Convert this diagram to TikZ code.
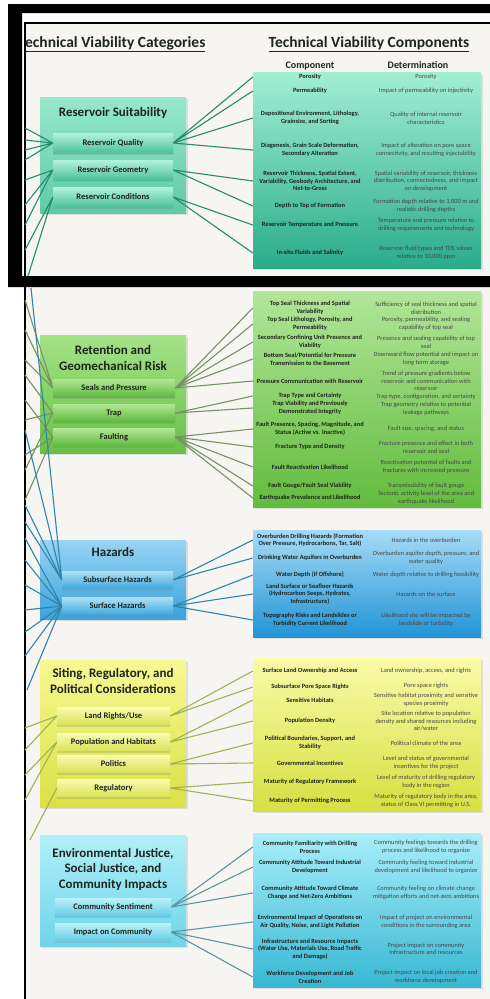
\documentclass[tikz,border=0pt]{standalone}
\usepackage{fontspec}
\setmainfont{Carlito}
\usepackage{xcolor}
\usepackage{tikz}
\usetikzlibrary{calc, shadows}
\definecolor{slidebg}{RGB}{246,245,242}
\definecolor{textdark}{RGB}{30,36,32}
% Reservoir (teal)
\definecolor{rescattop}{RGB}{150,232,205}
\definecolor{rescatbot}{RGB}{95,202,166}
\definecolor{ressubtop}{RGB}{178,242,220}
\definecolor{ressubbot}{RGB}{78,192,155}
\definecolor{restabtop}{RGB}{162,238,212}
\definecolor{restabbot}{RGB}{42,172,138}
\definecolor{resline}{RGB}{40,138,110}
% Retention (green)
\definecolor{retcattop}{RGB}{165,226,135}
\definecolor{retcatbot}{RGB}{104,192,72}
\definecolor{retsubtop}{RGB}{178,232,148}
\definecolor{retsubbot}{RGB}{96,184,64}
\definecolor{rettabtop}{RGB}{178,230,152}
\definecolor{rettabbot}{RGB}{98,188,62}
\definecolor{retline}{RGB}{118,146,102}
% Hazards (blue)
\definecolor{hazcattop}{RGB}{152,212,243}
\definecolor{hazcatbot}{RGB}{58,163,220}
\definecolor{hazsubtop}{RGB}{172,224,246}
\definecolor{hazsubbot}{RGB}{64,168,222}
\definecolor{haztabtop}{RGB}{166,219,246}
\definecolor{haztabbot}{RGB}{34,148,214}
\definecolor{hazline}{RGB}{46,134,168}
% Siting (yellow)
\definecolor{sitcattop}{RGB}{248,248,145}
\definecolor{sitcatbot}{RGB}{216,226,70}
\definecolor{sitsubtop}{RGB}{250,250,175}
\definecolor{sitsubbot}{RGB}{218,226,88}
\definecolor{sittabtop}{RGB}{250,250,168}
\definecolor{sittabbot}{RGB}{214,224,64}
\definecolor{sitline}{RGB}{160,178,86}
% Environmental justice (cyan)
\definecolor{ejcattop}{RGB}{176,240,249}
\definecolor{ejcatbot}{RGB}{112,212,234}
\definecolor{ejsubtop}{RGB}{186,243,251}
\definecolor{ejsubbot}{RGB}{104,204,228}
\definecolor{ejtabtop}{RGB}{168,238,249}
\definecolor{ejtabbot}{RGB}{56,184,212}
\definecolor{ejline}{RGB}{92,150,160}
\tikzstyle{catbox} = [rectangle, minimum width=146pt, inner sep=0pt, drop shadow={shadow xshift=1.5pt, shadow yshift=-1.5pt, opacity=0.2}]
\tikzstyle{cattitle} = [align=center, inner sep=0pt, text=textdark, font=\fontsize{13}{15.5}\selectfont\bfseries]
\tikzstyle{subbox} = [rectangle, inner sep=0pt, text=textdark, font=\fontsize{8.5}{10}\selectfont\bfseries, drop shadow={shadow xshift=0pt, shadow yshift=-2pt, opacity=0.25}]
\tikzstyle{tabbox} = [rectangle, minimum width=228pt, inner sep=0pt, drop shadow={shadow xshift=1.5pt, shadow yshift=-1.5pt, opacity=0.2}]
\tikzstyle{comp} = [inner sep=0pt, align=center, text=textdark, font=\fontsize{6.4}{7.6}\selectfont\bfseries]
\tikzstyle{det} = [inner sep=0pt, align=center, text=black!72, font=\fontsize{6.4}{7.6}\selectfont]
\tikzstyle{heading} = [inner sep=0pt, anchor=base, text=textdark, font=\fontsize{15.5}{18}\selectfont\bfseries]
\tikzstyle{colhead} = [inner sep=0pt, anchor=base, text=textdark, font=\fontsize{10}{12}\selectfont\bfseries]
\tikzstyle{link} = [line width=1.1pt]
\begin{document}
\begin{tikzpicture}[x=1pt, y=-1pt]
    \useasboundingbox (0,0) rectangle (490,999);
    % Slide and frame
    \fill[white] (0,0) rectangle (490,999);
    \fill[slidebg] (25,23) rectangle (490,999);
    \fill[black, even odd rule] (8,4) rectangle (500,287) (22,13) rectangle (500,276);
    \draw[line width=1.4pt] (490,23) -- (25,23) -- (25,276) (25,287) -- (25,999);

    % Headings
    \node[heading, anchor=base west] (hcat) at (25,47) {\underline{echnical Viability Categories}};
    \node[heading] (hcomp) at (369,47) {\underline{Technical Viability Components}};
    \node[colhead] (colc) at (310,68) {Component};
    \node[colhead] (cold) at (418,68) {Determination};

    % Reservoir Suitability
    \node[catbox, minimum height=116pt, top color=rescattop, bottom color=rescatbot] (res) at (113,155) {};
    \node[cattitle] (restitle) at (113,113) {Reservoir Suitability};
    \node[subbox, minimum width=120pt, minimum height=20pt, top color=ressubtop, bottom color=ressubbot] (resq) at (113,143) {Reservoir Quality};
    \node[subbox, minimum width=120pt, minimum height=20pt, top color=ressubtop, bottom color=ressubbot] (resg) at (113,170) {Reservoir Geometry};
    \node[subbox, minimum width=120pt, minimum height=20pt, top color=ressubtop, bottom color=ressubbot] (resc) at (113,197) {Reservoir Conditions};
    \node[tabbox, minimum height=196pt, top color=restabtop, bottom color=restabbot] (restab) at (367,170) {};
    \node[comp] (r1) at (310,77) {Porosity};
    \node[det] (rd1) at (426,77) {Porosity};
    \node[comp] (r2) at (310,91) {Permeability};
    \node[det] (rd2) at (426,91) {Impact of permeability on injectivity};
    \node[comp] (r3) at (310,118) {Depositional Environment, Lithology,\\Grainsize, and Sorting};
    \node[det] (rd3) at (426,118) {Quality of internal reservoir\\characteristics};
    \node[comp] (r4) at (310,150) {Diagenesis, Grain Scale Deformation,\\Secondary Alteration};
    \node[det] (rd4) at (426,150) {Impact of alteration on pore space\\connectivity, and resulting injectability};
    \node[comp] (r5) at (310,181) {Reservoir Thickness, Spatial Extent,\\Variability, Geobody Architecture, and\\Net-to-Gross};
    \node[det] (rd5) at (426,181) {Spatial variability of reservoir, thickness\\distribution, connectedness, and impact\\on development};
    \node[comp] (r6) at (310,206) {Depth to Top of Formation};
    \node[det] (rd6) at (426,206) {Formation depth relative to 1,000 m and\\realistic drilling depths};
    \node[comp] (r7) at (310,225) {Reservoir Temperature and Pressure};
    \node[det] (rd7) at (426,225) {Temperature and pressure relative to\\drilling requirements and technology};
    \node[comp] (r8) at (310,253) {In-situ Fluids and Salinity};
    \node[det] (rd8) at (426,253) {Reservoir fluid types and TDS values\\relative to 10,000 ppm};

    % Retention and Geomechanical Risk
    \node[catbox, minimum height=118pt, top color=retcattop, bottom color=retcatbot] (ret) at (113,394) {};
    \node[cattitle] (rettitle) at (113,358) {Retention and\\Geomechanical Risk};
    \node[subbox, minimum width=122pt, minimum height=18pt, top color=retsubtop, bottom color=retsubbot] (rets) at (114,388) {Seals and Pressure};
    \node[subbox, minimum width=122pt, minimum height=18pt, top color=retsubtop, bottom color=retsubbot] (rett) at (114,413) {Trap};
    \node[subbox, minimum width=122pt, minimum height=18pt, top color=retsubtop, bottom color=retsubbot] (retf) at (114,437) {Faulting};
    \node[tabbox, minimum height=216pt, top color=rettabtop, bottom color=rettabbot] (rettab) at (367,399) {};
    \node[comp] (g1) at (310,308) {Top Seal Thickness and Spatial\\Variability};
    \node[det] (gd1) at (426,308) {Sufficiency of seal thickness and spatial\\distribution};
    \node[comp] (g2) at (310,324) {Top Seal Lithology, Porosity, and\\Permeability};
    \node[det] (gd2) at (426,324) {Porosity, permeability, and sealing\\capability of top seal};
    \node[comp] (g3) at (310,342) {Secondary Confining Unit Presence and\\Viability};
    \node[det] (gd3) at (426,342) {Presence and sealing capability of top\\seal};
    \node[comp] (g4) at (310,359) {Bottom Seal/Potential for Pressure\\Transmission to the Basement};
    \node[det] (gd4) at (426,359) {Downward flow potential and impact on\\long term storage};
    \node[comp] (g5) at (310,381) {Pressure Communication with Reservoir};
    \node[det] (gd5) at (426,381) {Trend of pressure gradients below\\reservoir and communication with\\reservoir};
    \node[comp] (g6) at (310,396) {Trap Type and Certainty};
    \node[det] (gd6) at (426,397) {Trap type, configuration, and certainty};
    \node[comp] (g7) at (310,408) {Trap Viability and Previously\\Demonstrated Integrity};
    \node[det] (gd7) at (426,409) {Trap geometry relative to potential\\leakage pathways};
    \node[comp] (g8) at (310,429) {Fault Presence, Spacing, Magnitude, and\\Status (Active vs. Inactive)};
    \node[det] (gd8) at (426,429) {Fault size, spacing, and status};
    \node[comp] (g9) at (310,447) {Fracture Type and Density};
    \node[det] (gd9) at (426,447) {Fracture presence and effect in both\\reservoir and seal};
    \node[comp] (g10) at (310,467) {Fault Reactivation Likelihood};
    \node[det] (gd10) at (426,467) {Reactivation potential of faults and\\fractures with increased pressure};
    \node[comp] (g11) at (310,486) {Fault Gouge/Fault Seal Viability};
    \node[det] (gd11) at (426,486) {Transmissibility of fault gouge};
    \node[comp] (g12) at (310,498) {Earthquake Prevalence and Likelihood};
    \node[det] (gd12) at (426,498) {Tectonic activity level of the area and\\earthquake likelihood};

    % Hazards
    \node[catbox, minimum height=79pt, top color=hazcattop, bottom color=hazcatbot] (haz) at (113,579.5) {};
    \node[cattitle] (haztitle) at (113,552) {Hazards};
    \node[subbox, minimum width=111pt, minimum height=17pt, top color=hazsubtop, bottom color=hazsubbot] (hazs) at (117.5,580) {Subsurface Hazards};
    \node[subbox, minimum width=111pt, minimum height=17pt, top color=hazsubtop, bottom color=hazsubbot] (hazf) at (117.5,606) {Surface Hazards};
    \node[tabbox, minimum height=107pt, top color=haztabtop, bottom color=haztabbot] (haztab) at (367,583.5) {};
    \node[comp] (h1) at (310,540) {Overburden Drilling Hazards (Formation\\Over Pressure, Hydrocarbons, Tar, Salt)};
    \node[det] (hd1) at (426,540) {Hazards in the overburden};
    \node[comp] (h2) at (310,558) {Drinking Water Aquifers in Overburden};
    \node[det] (hd2) at (426,558) {Overburden aquifer depth, pressure, and\\water quality};
    \node[comp] (h3) at (310,575) {Water Depth (if Offshore)};
    \node[det] (hd3) at (426,575) {Water depth relative to drilling feasibility};
    \node[comp] (h4) at (310,594) {Land Surface or Seafloor Hazards\\(Hydrocarbon Seeps, Hydrates,\\Infrastructure)};
    \node[det] (hd4) at (426,594) {Hazards on the surface};
    \node[comp] (h5) at (310,620) {Topography Risks and Landslides or\\Turbidity Current Likelihood};
    \node[det] (hd5) at (426,620) {Likelihood site will be impacted by\\landslide or turbidity};

    % Siting, Regulatory, and Political Considerations
    \node[catbox, minimum height=147pt, top color=sitcattop, bottom color=sitcatbot] (sit) at (113,733.5) {};
    \node[cattitle] (sittitle) at (113,681) {Siting, Regulatory, and\\Political Considerations};
    \node[subbox, minimum width=113pt, minimum height=17pt, top color=sitsubtop, bottom color=sitsubbot] (sitl) at (113.5,716) {Land Rights/Use};
    \node[subbox, minimum width=113pt, minimum height=17pt, top color=sitsubtop, bottom color=sitsubbot] (sitp) at (113.5,742) {Population and Habitats};
    \node[subbox, minimum width=113pt, minimum height=17pt, top color=sitsubtop, bottom color=sitsubbot] (sito) at (113.5,764) {Politics};
    \node[subbox, minimum width=113pt, minimum height=17pt, top color=sitsubtop, bottom color=sitsubbot] (sitr) at (113.5,788) {Regulatory};
    \node[tabbox, minimum height=153pt, top color=sittabtop, bottom color=sittabbot] (sittab) at (367,734.5) {};
    \node[comp] (s1) at (310,671) {Surface Land Ownership and Access};
    \node[det] (sd1) at (426,671) {Land ownership, access, and rights};
    \node[comp] (s2) at (310,687) {Subsurface Pore Space Rights};
    \node[det] (sd2) at (426,686) {Pore space rights};
    \node[comp] (s3) at (310,700) {Sensitive Habitats};
    \node[det] (sd3) at (426,700) {Sensitive habitat proximity and sensitive\\species proximity};
    \node[comp] (s4) at (310,721) {Population Density};
    \node[det] (sd4) at (426,721) {Site location relative to population\\density and shared resources including\\air/water};
    \node[comp] (s5) at (310,743) {Political Boundaries, Support, and\\Stability};
    \node[det] (sd5) at (426,743) {Political climate of the area};
    \node[comp] (s6) at (310,763) {Governmental Incentives};
    \node[det] (sd6) at (426,763) {Level and status of governmental\\incentives for the project};
    \node[comp] (s7) at (310,782) {Maturity of Regulatory Framework};
    \node[det] (sd7) at (426,782) {Level of maturity of drilling regulatory\\body in the region};
    \node[comp] (s8) at (310,801) {Maturity of Permitting Process};
    \node[det] (sd8) at (426,801) {Maturity of regulatory body in the area,\\status of Class VI permitting in U.S.};

    % Environmental Justice, Social Justice, and Community Impacts
    \node[catbox, minimum height=111pt, top color=ejcattop, bottom color=ejcatbot] (ej) at (113,890.5) {};
    \node[cattitle] (ejtitle) at (113,869) {Environmental Justice,\\Social Justice, and\\Community Impacts};
    \node[subbox, minimum width=116pt, minimum height=18pt, top color=ejsubtop, bottom color=ejsubbot] (ejs) at (113,907) {Community Sentiment};
    \node[subbox, minimum width=116pt, minimum height=18pt, top color=ejsubtop, bottom color=ejsubbot] (eji) at (113,932) {Impact on Community};
    \node[tabbox, minimum height=154pt, top color=ejtabtop, bottom color=ejtabbot] (ejtab) at (367,910) {};
    \node[comp] (e1) at (310,847) {Community Familiarity with Drilling\\Process};
    \node[det] (ed1) at (426,847) {Community feelings towards the drilling\\process and likelihood to organize};
    \node[comp] (e2) at (310,867) {Community Attitude Toward Industrial\\Development};
    \node[det] (ed2) at (426,867) {Community feeling toward industrial\\development and likelihood to organize};
    \node[comp] (e3) at (310,893) {Community Attitude Toward Climate\\Change and Net-Zero Ambitions};
    \node[det] (ed3) at (426,893) {Community feeling on climate change\\mitigation efforts and net-zero ambitions};
    \node[comp] (e4) at (310,922) {Environmental Impact of Operations on\\Air Quality, Noise, and Light Pollution};
    \node[det] (ed4) at (426,922) {Impact of project on environmental\\conditions in the surrounding area};
    \node[comp] (e5) at (310,949) {Infrastructure and Resource Impacts\\(Water Use, Materials Use, Road Traffic\\and Damage)};
    \node[det] (ed5) at (426,949) {Project impact on community\\infrastructure and resources};
    \node[comp] (e6) at (310,977) {Workforce Development and Job\\Creation};
    \node[det] (ed6) at (426,977) {Project impact on local job creation and\\workforce development};

    % Links to the component tables
    \draw[link, resline] (resq.east) -- (r1 -| restab.west) (resq.east) -- (r2 -| restab.west) (resq.east) -- (r3 -| restab.west) (resq.east) -- (r4 -| restab.west)
        (resg.east) -- (r5 -| restab.west) (resg.east) -- (r6 -| restab.west) (resc.east) -- (r7 -| restab.west) (resc.east) -- (r8 -| restab.west);
    \draw[link, retline] (rets.east) -- (g1 -| rettab.west) (rets.east) -- (g2 -| rettab.west) (rets.east) -- (g3 -| rettab.west) (rets.east) -- (g4 -| rettab.west) (rets.east) -- (g5 -| rettab.west)
        (rett.east) -- (g6 -| rettab.west) (rett.east) -- (g7 -| rettab.west)
        (retf.east) -- (g8 -| rettab.west) (retf.east) -- (g9 -| rettab.west) (retf.east) -- (g10 -| rettab.west) (retf.east) -- (g11 -| rettab.west) (retf.east) -- (g12 -| rettab.west);
    \draw[link, hazline] (hazs.east) -- (h1 -| haztab.west) (hazs.east) -- (h2 -| haztab.west)
        (hazf.east) -- (h3 -| haztab.west) (hazf.east) -- (h4 -| haztab.west) (hazf.east) -- (h5 -| haztab.west);
    \draw[link, sitline] (sitl.east) -- (s1 -| sittab.west) (sitl.east) -- (s2 -| sittab.west) (sitp.east) -- (s3 -| sittab.west) (sitp.east) -- (s4 -| sittab.west)
        (sito.east) -- (s5 -| sittab.west) (sito.east) -- (s6 -| sittab.west) (sitr.east) -- (s7 -| sittab.west) (sitr.east) -- (s8 -| sittab.west);
    \draw[link, ejline] (ejs.east) -- (e1 -| ejtab.west) (ejs.east) -- (e2 -| ejtab.west) (ejs.east) -- (e3 -| ejtab.west)
        (eji.east) -- (e4 -| ejtab.west) (eji.east) -- (e5 -| ejtab.west) (eji.east) -- (e6 -| ejtab.west);

    % Links coming in from the left edge
    \coordinate (a1) at (25,128); \coordinate (a2) at (25,140); \coordinate (a3) at (25,150); \coordinate (a4) at (25,160);
    \coordinate (a5) at (25,180); \coordinate (a6) at (25,205); \coordinate (a7) at (25,225); \coordinate (a8) at (25,250); \coordinate (a9) at (28,276);
    \coordinate (b1) at (25,300); \coordinate (b2) at (25,330); \coordinate (b3) at (25,360); \coordinate (b4) at (25,375); \coordinate (b5) at (25,420);
    \coordinate (b6) at (25,470); \coordinate (b7) at (25,400); \coordinate (b8) at (25,455); \coordinate (b9) at (25,500);
    \coordinate (c1) at (31,288); \coordinate (c2) at (25,430); \coordinate (c3) at (25,505); \coordinate (c4) at (25,522);
    \coordinate (c5) at (25,538); \coordinate (c6) at (25,560); \coordinate (c7) at (25,585); \coordinate (c8) at (25,610);
    \coordinate (c9) at (25,632); \coordinate (c10) at (25,656); \coordinate (c11) at (27,690);
    \coordinate (d1) at (25,728); \coordinate (d2) at (25,750); \coordinate (d3) at (25,775); \coordinate (d4) at (25,800); \coordinate (d5) at (30,840);
    \draw[link, resline] (a1) -- (resq.west) (a2) -- (resq.west) (a3) -- (resq.west) (a4) -- (resq.west)
        (a5) -- (resg.west) (a6) -- (resg.west) (a7) -- (resg.west) (a8) -- (resc.west) (a9) -- (resc.west);
    \draw[link, retline] (b1) -- (rets.west) (b2) -- (rets.west) (b3) -- (rets.west) (b4) -- (rett.west) (b5) -- (rett.west)
        (b6) -- (rett.west) (b7) -- (retf.west) (b8) -- (retf.west) (b9) -- (retf.west);
    \draw[link, hazline] (c1) -- (hazs.west) (c2) -- (hazs.west) (c3) -- (hazs.west) (c4) -- (hazs.west)
        (c5) -- (hazf.west) (c6) -- (hazf.west) (c7) -- (hazf.west) (c8) -- (hazf.west) (c9) -- (hazf.west) (c10) -- (hazf.west) (c11) -- (hazf.west);
    \draw[link, sitline] (d1) -- (sitl.west) (d2) -- (sitl.west) (d3) -- (sitp.west) (d4) -- (sitp.west) (d5) -- (sitr.west);
\end{tikzpicture}
\end{document}
